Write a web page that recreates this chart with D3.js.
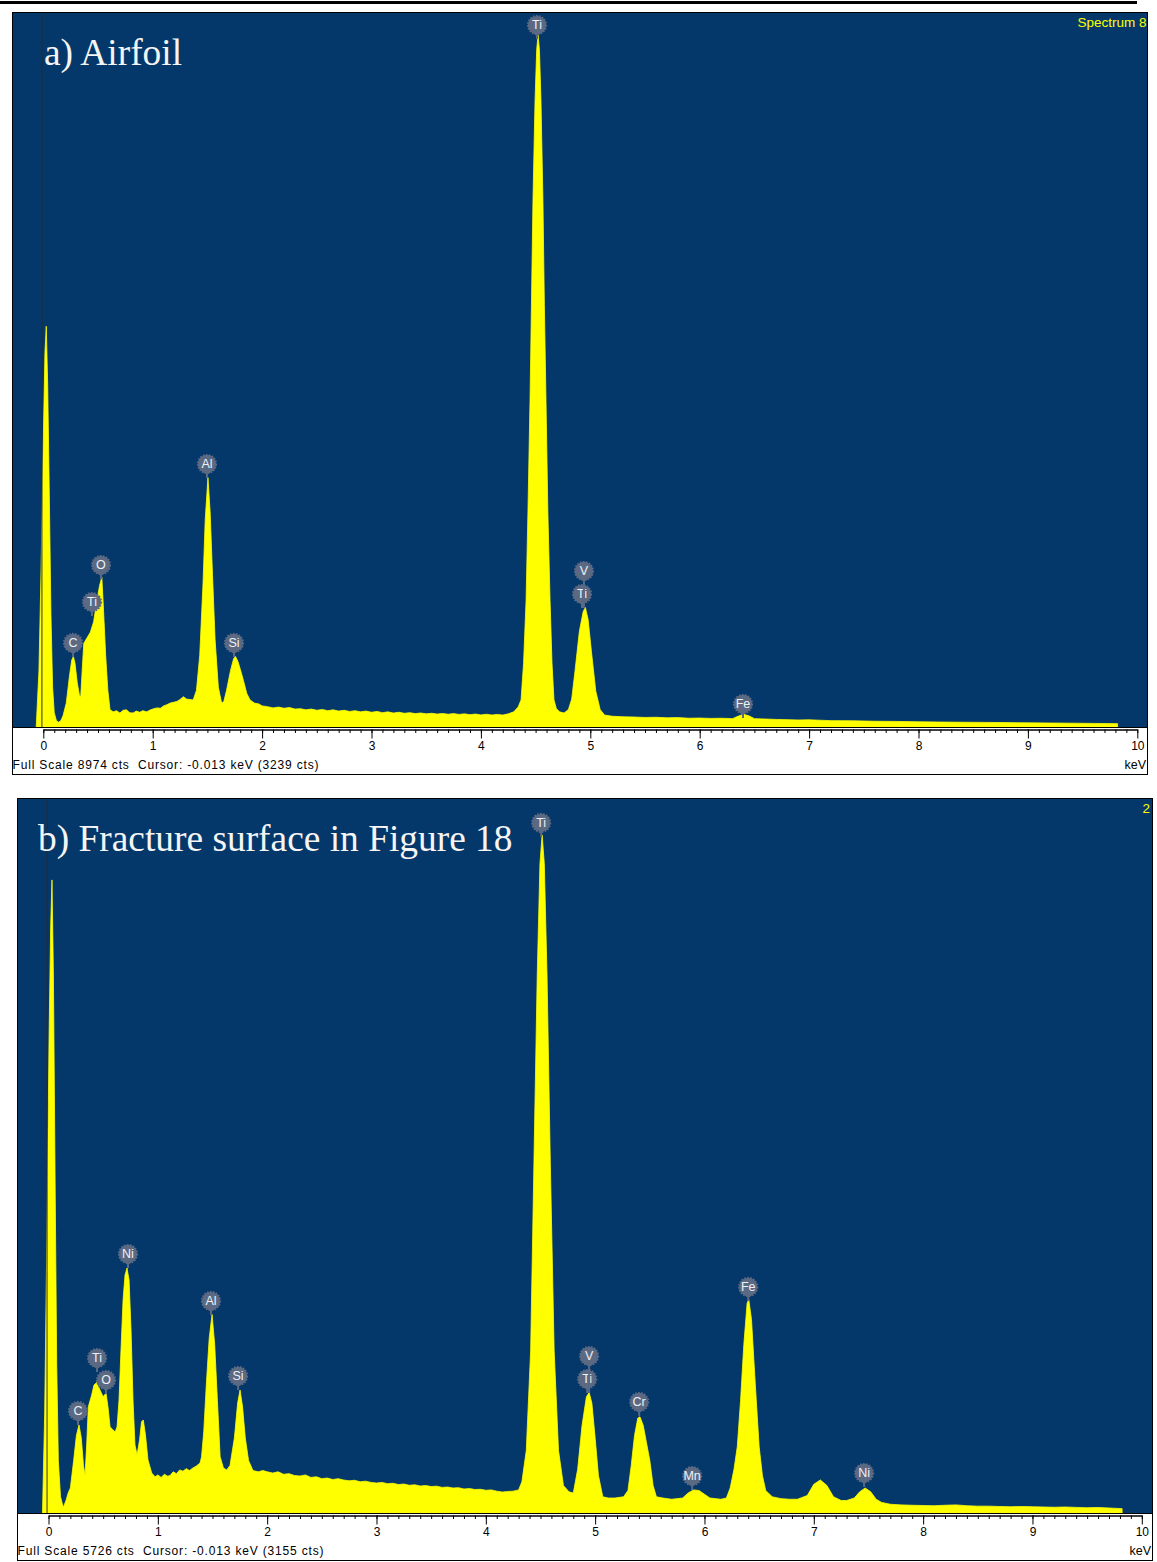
<!DOCTYPE html>
<html><head><meta charset="utf-8">
<script src="https://cdn.jsdelivr.net/npm/d3@7"></script>
<style>html,body{margin:0;padding:0;background:#fff}svg{display:block}</style>
</head><body>
<svg id="c" width="1157" height="1562"></svg>
<script>
// ---------- DATA ----------
// Spectrum a) Airfoil : [energy keV, counts]
const spectrumA = [
[-0.065,0],[-0.04,700],[-0.02,2000],[0,3600],[0.015,4700],[0.027,5030],[0.04,4300],[0.055,2900],[0.07,1400],[0.085,500],[0.10,180],[0.12,80],[0.14,60],[0.16,80],[0.18,140],[0.21,300],[0.24,650],[0.26,840],[0.275,885],[0.29,800],[0.31,560],[0.33,400],[0.342,380],[0.355,700],[0.37,1050],[0.40,1120],[0.43,1190],[0.46,1320],[0.49,1590],[0.515,1780],[0.535,1880],[0.55,1480],[0.57,900],[0.59,460],[0.61,215],[0.64,190],[0.67,205],[0.70,175],[0.73,210],[0.76,215],[0.79,180],[0.82,175],[0.85,200],[0.88,185],[0.91,205],[0.945,190],[0.98,215],[1.01,230],[1.04,240],[1.07,235],[1.10,265],[1.13,280],[1.16,300],[1.19,310],[1.22,320],[1.25,345],[1.28,380],[1.31,350],[1.34,345],[1.37,340],[1.40,460],[1.43,900],[1.46,1800],[1.48,2600],[1.505,3130],[1.525,2700],[1.547,1900],[1.57,1100],[1.60,500],[1.63,300],[1.65,320],[1.675,460],[1.71,700],[1.74,860],[1.757,885],[1.78,820],[1.81,680],[1.83,580],[1.86,420],[1.89,340],[1.93,300],[1.97,290],[2.0,265],[2.05,255],[2.1,240],[2.15,250],[2.2,235],[2.25,245],[2.3,225],[2.35,230],[2.4,215],[2.45,225],[2.5,210],[2.55,220],[2.6,205],[2.65,215],[2.7,200],[2.75,210],[2.8,195],[2.85,205],[2.9,190],[2.95,200],[3.0,185],[3.05,195],[3.1,180],[3.15,190],[3.2,175],[3.25,185],[3.3,172],[3.35,180],[3.4,168],[3.45,176],[3.5,165],[3.55,172],[3.6,162],[3.65,170],[3.7,160],[3.75,168],[3.8,158],[3.85,165],[3.9,155],[3.95,162],[4.0,152],[4.05,160],[4.1,150],[4.15,158],[4.2,150],[4.25,165],[4.3,190],[4.34,250],[4.367,340],[4.39,800],[4.413,1590],[4.43,2700],[4.449,4100],[4.462,5300],[4.476,6610],[4.495,7870],[4.51,8500],[4.522,8685],[4.535,8500],[4.549,7870],[4.567,6610],[4.58,5300],[4.595,4100],[4.612,2700],[4.632,1590],[4.65,800],[4.668,340],[4.69,230],[4.72,190],[4.76,175],[4.80,220],[4.83,350],[4.86,700],[4.90,1200],[4.935,1450],[4.955,1500],[4.98,1350],[5.01,950],[5.05,450],[5.09,220],[5.13,150],[5.2,135],[5.3,128],[5.4,125],[5.5,120],[5.6,122],[5.7,115],[5.8,118],[5.9,110],[6.0,112],[6.1,108],[6.2,110],[6.3,105],[6.35,135],[6.40,160],[6.45,140],[6.5,105],[6.6,100],[6.7,95],[6.8,92],[6.9,88],[7.0,90],[7.2,80],[7.4,78],[7.6,72],[7.8,70],[8.0,65],[8.2,62],[8.4,60],[8.6,58],[8.8,55],[9.0,52],[9.2,50],[9.4,48],[9.6,45],[9.82,42]
];
// Spectrum b) Fracture surface : [energy keV, counts]
const spectrumB = [
[-0.055,0],[-0.035,800],[-0.015,2200],[0.005,3800],[0.02,4700],[0.032,5070],[0.045,4300],[0.06,2700],[0.075,1200],[0.09,420],[0.11,130],[0.135,45],[0.16,100],[0.18,160],[0.20,200],[0.23,420],[0.255,620],[0.279,705],[0.30,600],[0.32,380],[0.334,300],[0.35,560],[0.364,850],[0.395,945],[0.416,1025],[0.441,1045],[0.471,985],[0.50,930],[0.526,961],[0.544,850],[0.563,690],[0.59,665],[0.61,650],[0.627,690],[0.645,905],[0.663,1306],[0.682,1706],[0.70,1906],[0.718,1962],[0.737,1866],[0.755,1466],[0.773,905],[0.791,545],[0.81,465],[0.833,585],[0.851,730],[0.867,745],[0.887,625],[0.91,425],[0.944,320],[0.975,290],[1.0,305],[1.03,285],[1.06,310],[1.09,295],[1.112,300],[1.14,330],[1.17,315],[1.20,345],[1.23,335],[1.26,355],[1.29,340],[1.32,360],[1.35,375],[1.386,400],[1.40,450],[1.42,650],[1.445,1050],[1.47,1400],[1.496,1590],[1.52,1350],[1.545,900],[1.57,450],[1.60,360],[1.63,345],[1.66,380],[1.70,600],[1.73,880],[1.752,985],[1.775,850],[1.80,600],[1.83,420],[1.87,340],[1.92,330],[1.96,340],[2.0,330],[2.05,320],[2.1,330],[2.15,310],[2.2,315],[2.25,300],[2.3,296],[2.35,305],[2.4,285],[2.45,290],[2.5,275],[2.55,280],[2.6,268],[2.65,275],[2.7,264],[2.75,258],[2.8,262],[2.85,250],[2.9,255],[2.95,245],[3.0,240],[3.05,245],[3.1,235],[3.15,238],[3.2,228],[3.25,232],[3.3,222],[3.35,226],[3.4,216],[3.45,220],[3.5,212],[3.55,215],[3.6,205],[3.65,208],[3.7,200],[3.75,203],[3.8,192],[3.85,196],[3.9,188],[3.95,190],[4.0,182],[4.05,185],[4.1,175],[4.15,168],[4.2,172],[4.25,175],[4.3,185],[4.33,250],[4.37,500],[4.41,1300],[4.44,2800],[4.47,4300],[4.495,5200],[4.515,5430],[4.535,5200],[4.56,4300],[4.59,2800],[4.625,1300],[4.665,500],[4.71,220],[4.76,170],[4.80,160],[4.84,350],[4.88,700],[4.92,930],[4.945,965],[4.97,880],[5.00,600],[5.03,300],[5.07,130],[5.12,120],[5.18,120],[5.26,130],[5.30,180],[5.33,380],[5.36,620],[5.39,760],[5.41,770],[5.44,700],[5.47,560],[5.50,420],[5.53,220],[5.56,130],[5.62,120],[5.70,110],[5.80,120],[5.85,160],[5.90,185],[5.95,180],[6.0,150],[6.05,120],[6.15,110],[6.20,120],[6.235,200],[6.27,350],[6.30,530],[6.33,900],[6.36,1350],[6.39,1680],[6.405,1710],[6.43,1550],[6.46,1100],[6.50,530],[6.53,300],[6.56,180],[6.62,130],[6.7,115],[6.78,110],[6.85,110],[6.94,140],[7.0,230],[7.06,265],[7.12,220],[7.18,130],[7.25,100],[7.30,100],[7.37,120],[7.42,170],[7.47,200],[7.52,170],[7.57,110],[7.62,85],[7.7,70],[7.8,65],[7.9,62],[8.0,60],[8.1,58],[8.2,62],[8.3,65],[8.4,58],[8.5,55],[8.6,55],[8.7,52],[8.8,50],[8.9,52],[9.0,50],[9.1,48],[9.2,46],[9.3,48],[9.4,45],[9.5,42],[9.6,44],[9.7,40],[9.82,35]
];

// Peak labels
const labelNamesA = ["C","Ti","O","Al","Si","Ti","Ti","V","Fe"];
const labelKeVA   = [0.272,0.445,0.527,1.496,1.743,4.513,4.924,4.942,6.396];
const labelCtsA   = [880,1393,1857,3125,879,8634,1493,1493,113];
const labelLevelA = [0,0,0,0,0,0,0,1,0];

const labelNamesB = ["C","Ti","O","Ni","Al","Si","Ti","Ti","V","Cr","Mn","Fe","Ni"];
const labelKeVB   = [0.270,0.444,0.526,0.727,1.486,1.734,4.506,4.927,4.945,5.403,5.887,6.400,7.460];
const labelCtsB   = [705,1129,953,1962,1586,985,5415,961,961,777,184,1698,208];
const labelLevelB = [0,0,0,0,0,0,0,0,1,0,0,0,0];

const majorTicks = [0,1,2,3,4,5,6,7,8,9,10];
const tickLabels = ["0","1","2","3","4","5","6","7","8","9","10"];

const fullScaleA = 8974, fullScaleB = 5726;
const cursorKeV = -0.013;
const titleA = "a) Airfoil";
const titleB = "b) Fracture surface in Figure 18";
const footerA = "Full Scale 8974 cts  Cursor: -0.013 keV (3239 cts)";
const footerB = "Full Scale 5726 cts  Cursor: -0.013 keV (3155 cts)";
const cornerA = "Spectrum 8";
const cornerB = "2";
const unitLabel = "keV";

// ---------- DRAW ----------
const BLUE = "#05386a";
const YELLOW = "#ffff00";
const LABEL_FILL = "#5b6983";
const svg = d3.select("#c");

svg.append("rect").attr("x",0).attr("y",1).attr("width",1137).attr("height",3).attr("fill","#000");

function drawPanel(p, id) {
  const g = svg.append("g");
  const x = d3.scaleLinear().domain([0,10]).range([p.x0, p.x10]);
  const y = d3.scaleLinear().domain([0, p.fullScale]).range([p.plotBottom, p.top]);

  g.append("rect").attr("x",p.left+0.5).attr("y",p.top+0.5)
    .attr("width",p.right-p.left).attr("height",p.bottom-p.top)
    .attr("fill","#fff").attr("stroke","#000").attr("stroke-width",1);
  g.append("rect").attr("x",p.left+1).attr("y",p.top+1)
    .attr("width",p.right-p.left-1).attr("height",p.plotBottom-p.top-1).attr("fill",BLUE);

  const clip = svg.append("clipPath").attr("id","clip"+id);
  clip.append("rect").attr("x",p.left+1).attr("y",p.top+1)
    .attr("width",p.right-p.left-1).attr("height",p.plotBottom-p.top-1);
  const pg = g.append("g").attr("clip-path","url(#clip"+id+")");

  const area = d3.area().x(d=>x(d[0])).y0(y(0)).y1(d=>y(d[1]));
  pg.append("path").datum(p.data).attr("d",area)
    .attr("fill",YELLOW).attr("stroke",YELLOW).attr("stroke-width",0.8).attr("stroke-linejoin","round");

  // cursor line
  pg.append("line").attr("x1",x(cursorKeV)).attr("x2",x(cursorKeV))
    .attr("y1",p.top).attr("y2",p.plotBottom)
    .attr("stroke","#2a2a2a").attr("stroke-opacity",0.6).attr("stroke-width",1.6);

  // separator line between plot & axis strip
  g.append("line").attr("x1",p.left).attr("x2",p.right).attr("y1",p.plotBottom+0.5).attr("y2",p.plotBottom+0.5)
    .attr("stroke","#000").attr("stroke-width",1);

  // title
  g.append("text").attr("x",p.titleX).attr("y",p.titleY).text(p.title)
    .attr("font-family","'Liberation Serif','Times New Roman',serif").attr("font-size",37.4).attr("fill","#f5f5f5");

  // corner label
  g.append("text").attr("x",p.cornerX).attr("y",p.cornerY).text(p.corner)
    .attr("text-anchor","end").attr("font-family","'Liberation Sans',Arial,sans-serif")
    .attr("font-size",13.5).attr("fill",YELLOW);

  // peak labels
  const lg = g.append("g");
  p.labels.names.forEach((nm,i) => {
    const cx = x(p.labels.keV[i]);
    const anchorY = y(p.labels.cts[i]);
    const cy = anchorY - 14 - p.labels.level[i]*23;
    lg.append("line").attr("x1",cx).attr("x2",cx).attr("y1",cy).attr("y2",anchorY)
      .attr("stroke",LABEL_FILL).attr("stroke-width",2);
    lg.append("circle").attr("cx",cx).attr("cy",cy).attr("r",9.2).attr("fill",LABEL_FILL)
      .attr("stroke",LABEL_FILL).attr("stroke-width",1.8).attr("stroke-dasharray","1.6,1.4");
    lg.append("text").attr("x",cx).attr("y",cy+4.3).text(nm).attr("text-anchor","middle")
      .attr("font-family","'Liberation Sans',Arial,sans-serif").attr("font-size",12.5).attr("fill","#eef1f6");
  });

  // axis
  const ax = g.append("g").attr("transform",`translate(0,${p.axisY})`);
  ax.call(d3.axisBottom(x).ticks(100).tickSize(3.5).tickSizeOuter(0).tickFormat(""));
  const ax2 = g.append("g").attr("transform",`translate(0,${p.axisY})`);
  ax2.call(d3.axisBottom(x).tickValues(majorTicks).tickSize(p.majorLen).tickSizeOuter(0)
    .tickPadding(p.pad).tickFormat((d,i)=>tickLabels[i]));
  [ax,ax2].forEach(a=>{
    a.selectAll("path,line").attr("stroke","#000").attr("stroke-width",1);
    a.selectAll("text").attr("font-family","'Liberation Sans',Arial,sans-serif").attr("font-size",12).attr("fill","#000");
  });

  // footer
  g.append("text").attr("x",p.left+0.5).attr("y",p.footerY).text(p.footer)
    .style("white-space","pre").attr("xml:space","preserve")
    .attr("font-family","'Liberation Sans',Arial,sans-serif").attr("font-size",12)
    .attr("textLength",p.footerLen).attr("lengthAdjust","spacing").attr("fill","#000");
  g.append("text").attr("x",p.right-1).attr("y",p.footerY).text(unitLabel).attr("text-anchor","end")
    .attr("font-family","'Liberation Sans',Arial,sans-serif").attr("font-size",12.5).attr("fill","#000");
}

drawPanel({
  left:12, right:1147, top:12, plotBottom:727, bottom:774,
  x0:43.3, x10:1137.3, fullScale:fullScaleA, data:spectrumA,
  axisY:729.5, majorLen:9, pad:3,
  footerY:768.5, footer:footerA, footerLen:306,
  title:titleA, titleX:44, titleY:65,
  corner:cornerA, cornerX:1146.5, cornerY:27,
  labels:{names:labelNamesA, keV:labelKeVA, cts:labelCtsA, level:labelLevelA}
}, "A");

drawPanel({
  left:17, right:1152, top:798, plotBottom:1513, bottom:1560,
  x0:48.5, x10:1141.8, fullScale:fullScaleB, data:spectrumB,
  axisY:1515.5, majorLen:9, pad:3,
  footerY:1555, footer:footerB, footerLen:306,
  title:titleB, titleX:38, titleY:851,
  corner:cornerB, cornerX:1150, cornerY:813,
  labels:{names:labelNamesB, keV:labelKeVB, cts:labelCtsB, level:labelLevelB}
}, "B");
</script>
</body></html>
